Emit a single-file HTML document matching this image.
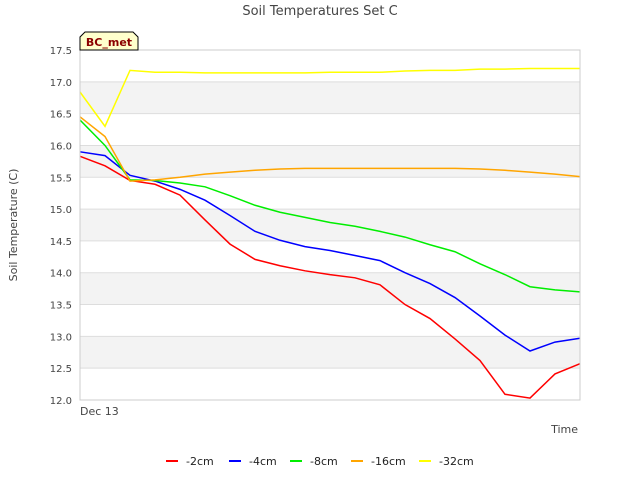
<!DOCTYPE html>
<html><head><meta charset="utf-8"><style>
body{margin:0;background:#fff;font-family:"Liberation Sans","DejaVu Sans",sans-serif}
</style></head><body>
<svg width="640" height="480" id="c" font-family="DejaVu Sans, Liberation Sans, sans-serif">
<text x="320" y="15" text-anchor="middle" font-size="13" fill="#444">Soil Temperatures Set C</text>
<text transform="translate(17,225) rotate(-90)" text-anchor="middle" font-size="11" fill="#444">Soil Temperature (C)</text>
<text x="578" y="433" text-anchor="end" font-size="11" fill="#444">Time</text>
<g id="bands"></g><g id="grid"></g><g id="lines"></g><g id="legend"></g>
<rect x="80" y="50" width="500" height="350" fill="none" stroke="#ccc"/>
<text x="80" y="415" font-size="11" fill="#444">Dec 13</text>
<g>
<path d="M80,50 L80,37 L85,32 L133,32 L138,37 L138,50 Z" fill="#ffffcc" stroke="#000"/>
<text x="109" y="46" text-anchor="middle" font-size="11" font-weight="bold" fill="#8b0000">BC_met</text></g>
</svg>
<script>
const yTicks=[12.0,12.5,13.0,13.5,14.0,14.5,15.0,15.5,16.0,16.5,17.0,17.5];
const seriesNames=["-2cm","-4cm","-8cm","-16cm","-32cm"];
const seriesColors=["#ff0000","#0000ff","#00ee00","#ffa500","#ffff00"];
const s2=[15.83,15.68,15.45,15.39,15.22,14.83,14.45,14.21,14.11,14.03,13.97,13.92,13.81,13.5,13.28,12.96,12.62,12.09,12.03,12.41,12.57];
const s4=[15.9,15.84,15.53,15.44,15.31,15.14,14.9,14.65,14.51,14.41,14.35,14.27,14.19,14.0,13.83,13.61,13.32,13.02,12.77,12.91,12.97];
const s8=[16.4,16.0,15.46,15.45,15.41,15.35,15.21,15.06,14.95,14.87,14.79,14.73,14.65,14.56,14.44,14.33,14.14,13.97,13.78,13.73,13.7];
const s16=[16.45,16.14,15.44,15.46,15.5,15.55,15.58,15.61,15.63,15.64,15.64,15.64,15.64,15.64,15.64,15.64,15.63,15.61,15.58,15.55,15.51];
const s32=[16.84,16.3,17.18,17.15,17.15,17.14,17.14,17.14,17.14,17.14,17.15,17.15,17.15,17.17,17.18,17.18,17.2,17.2,17.21,17.21,17.21];
const series=[s2,s4,s8,s16,s32];
const NS="http://www.w3.org/2000/svg";
const X0=80,X1=580,Y0=400,Y1=50,ymin=12,ymax=17.5;
const y=v=>Y0-(v-ymin)/(ymax-ymin)*(Y0-Y1);
const x=(i,n)=>X0+i*(X1-X0)/(n-1);
function mk(t,a,p){const e=document.createElementNS(NS,t);for(const k in a)e.setAttribute(k,a[k]);p.appendChild(e);return e;}
const bands=document.getElementById('bands'),grid=document.getElementById('grid');
for(let i=0;i<yTicks.length;i++){
 const v=yTicks[i];
 if(i%2==1&&i<yTicks.length-1){const r=mk('rect',{x:X0,y:y(v+0.5),width:X1-X0,height:y(v)-y(v+0.5),fill:'#f3f3f3'},bands);
 
 }
 const l=mk('line',{x1:X0,x2:X1,y1:y(v),y2:y(v),stroke:'#ddd'},grid);
 
 
 const t=mk('text',{x:X0-8,y:y(v)+4,'text-anchor':'end','font-size':10,fill:'#444'},grid);
 t.textContent=v.toFixed(1);
 
 
}
const lines=document.getElementById('lines');
series.forEach((s,k)=>{
 const p=mk('polyline',{points:s.map((v,i)=>x(i,s.length)+','+y(v)).join(' '),fill:'none',stroke:seriesColors[k],'stroke-width':1.5},lines);
 
 
});
const lg=document.getElementById('legend');
const lx=[166,229,290,351,419];
seriesNames.forEach((n,k)=>{
 const g=mk('g',{},lg);
 
 
 mk('line',{x1:lx[k],x2:lx[k]+12,y1:461,y2:461,stroke:seriesColors[k],'stroke-width':2},g);
 const t=mk('text',{x:lx[k]+20,y:465,'font-size':11,fill:'#222'},g);t.textContent=n;
});
</script>
</body></html>
